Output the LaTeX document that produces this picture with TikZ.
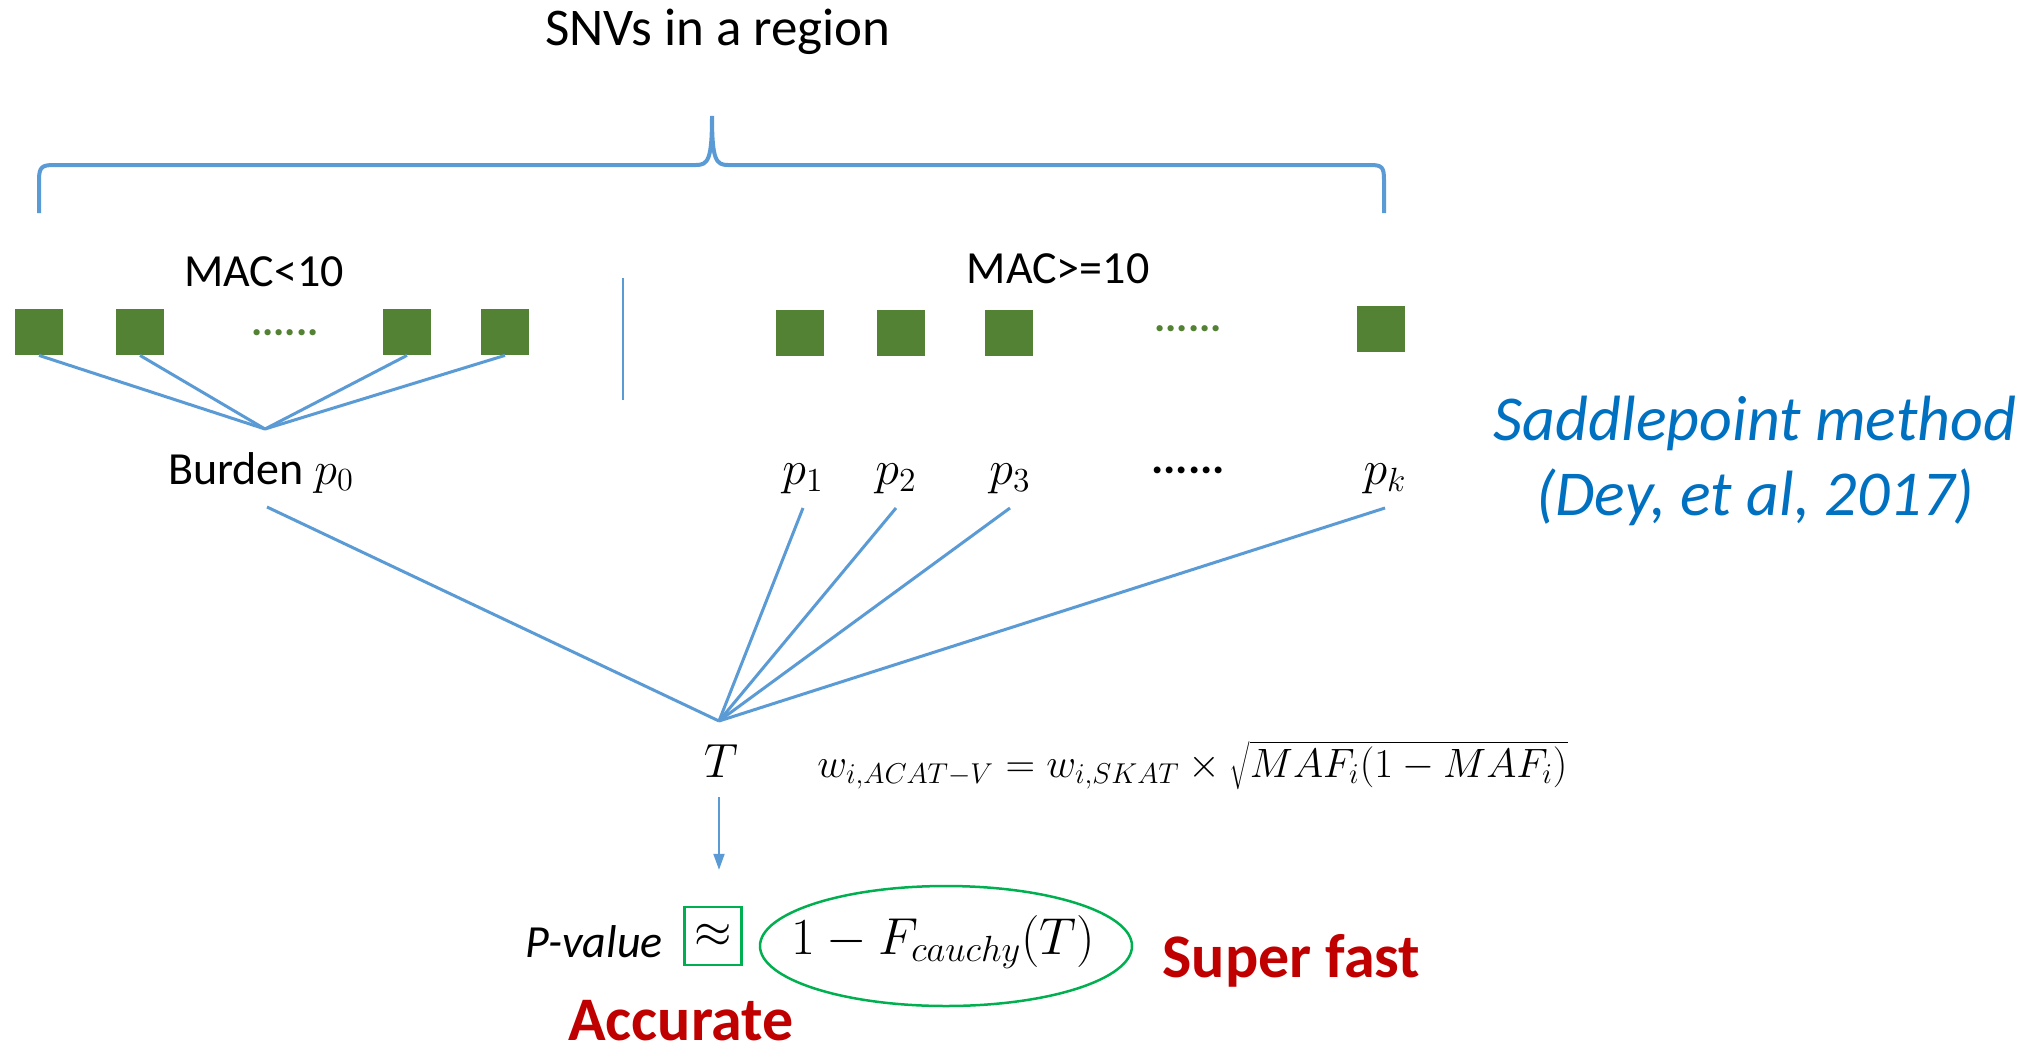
\RequirePackage{fix-cm}
\documentclass[tikz,border=0pt]{standalone}
\usepackage{fontspec}
\setmainfont{Carlito}
\usetikzlibrary{arrows.meta,shapes.geometric}
\definecolor{lineblue}{HTML}{5B9BD5}
\definecolor{sqgreen}{HTML}{548235}
\definecolor{boxgreen}{HTML}{00B050}
\definecolor{darkred}{HTML}{C00000}
\definecolor{citeblue}{HTML}{0070C0}
\tikzset{
  sq/.style={fill=sqgreen,draw=none,minimum width=24pt,minimum height=23pt,inner sep=0pt},
  conn/.style={draw=lineblue,line width=1.5pt},
  lbl/.style={inner sep=0pt,font=\fontsize{23}{27}\selectfont},
  plbl/.style={inner sep=0pt,anchor=base,font=\fontsize{24}{28}\selectfont},
  gdots/.style={inner sep=0pt,text=sqgreen,font=\fontsize{21}{25}\selectfont\bfseries},
  big/.style={inner sep=0pt,anchor=base,text=darkred,font=\fontsize{31}{36}\selectfont\bfseries},
}
\begin{document}
\begin{tikzpicture}[x=0.5pt,y=-0.5pt]
\useasboundingbox[fill=white] (0,0) rectangle (2024,1055);
% title and brace
\node[anchor=base,inner sep=0pt,font=\fontsize{26.5}{31}\selectfont] (title) at (718,45) {SNVs in a region};
\draw[draw=lineblue,line width=2pt] (39,213) -- (39,180) .. controls (39,167) and (42,165) .. (54,165) -- (696,165)
  .. controls (708,165) and (712,160) .. (712,116) .. controls (712,160) and (716,165) .. (728,165)
  -- (1370,165) .. controls (1382,165) and (1384,167) .. (1384,180) -- (1384,213);
% group labels
\node[lbl,anchor=base] (mac1) at (264,286) {MAC<10};
\node[lbl,anchor=base] (mac2) at (1058,283) {MAC>=10};
\draw[draw=lineblue,line width=0.6pt] (623,278) -- (623,400);
% squares
\node[sq] (a1) at (39,332) {};
\node[sq] (a2) at (140,332) {};
\node[gdots] (ad) at (285,333) {......};
\node[sq] (a3) at (407,332) {};
\node[sq] (a4) at (505,332) {};
\node[sq] (b1) at (800,333) {};
\node[sq] (b2) at (901,333) {};
\node[sq] (b3) at (1009,333) {};
\node[gdots] (bd) at (1188,329) {......};
\node[sq] (bk) at (1381,329) {};
% burden apex
\coordinate (bap) at (265,429);
\foreach \s in {a1,a2,a3,a4} \draw[conn] (\s.south) -- (bap);
% p labels
\node[lbl,anchor=base] (p0) at (261,484) {Burden $p_0$};
\node[plbl] (p1) at (803,484) {$p_1$};
\node[plbl] (p2) at (896,484) {$p_2$};
\node[plbl] (p3) at (1010,484) {$p_3$};
\node[plbl,font=\fontsize{23}{27}\selectfont\bfseries] (pd) at (1188,473) {......};
\node[plbl] (pk) at (1385,484) {$p_k$};
% apex T
\coordinate (tap) at (719,721);
\draw[conn] ([shift={(3pt,-11.5pt)}]p0.base) -- (tap);
\foreach \p in {p1,p2,p3,pk} \draw[conn] ([yshift=-12pt]\p.base) -- (tap);
\node[plbl] (T) at (721,777) {$T$};
\node[inner sep=0pt,anchor=base west,font=\fontsize{20.5}{25}\selectfont] (w) at (817,777)
  {$w_{i,ACAT-V} = w_{i,SKAT}\times\sqrt{MAF_i(1-MAF_i)}$};
% bottom
\node[draw=boxgreen,line width=1.2pt,minimum width=28.5pt,minimum height=29pt,inner sep=0pt,font=\fontsize{24}{28}\selectfont] (approx) at (713,936) {$\approx$};
\draw[draw=lineblue,line width=1pt,-{Triangle[length=8pt,width=5.5pt]},shorten <=10pt,shorten >=18pt] (T.south -| 719,0) -- (approx.north -| 719,0);
\node[inner sep=0pt,anchor=base east,font=\fontsize{23}{27}\selectfont\itshape] (pv) at (663,957) {P-value};
\node[inner sep=0pt,font=\fontsize{26}{30}\selectfont] (cauchy) at (943,942) {$1-F_{cauchy}(T)$};
\draw[draw=boxgreen,line width=1.25pt] (946,946) ellipse [x radius=93pt,y radius=30pt];
\node[big,anchor=base west] (fast) at (1162,977) {Super fast};
\node[big] (acc) at (681,1040) {Accurate};
\node[inner sep=0pt,anchor=base,text=citeblue,font=\fontsize{32}{38}\selectfont\itshape] (sad1) at (1755,440) {Saddlepoint method};
\node[inner sep=0pt,anchor=base,text=citeblue,font=\fontsize{32}{38}\selectfont\itshape] (sad2) at (1755,515) {(Dey, et al, 2017)};
\end{tikzpicture}
\end{document}
